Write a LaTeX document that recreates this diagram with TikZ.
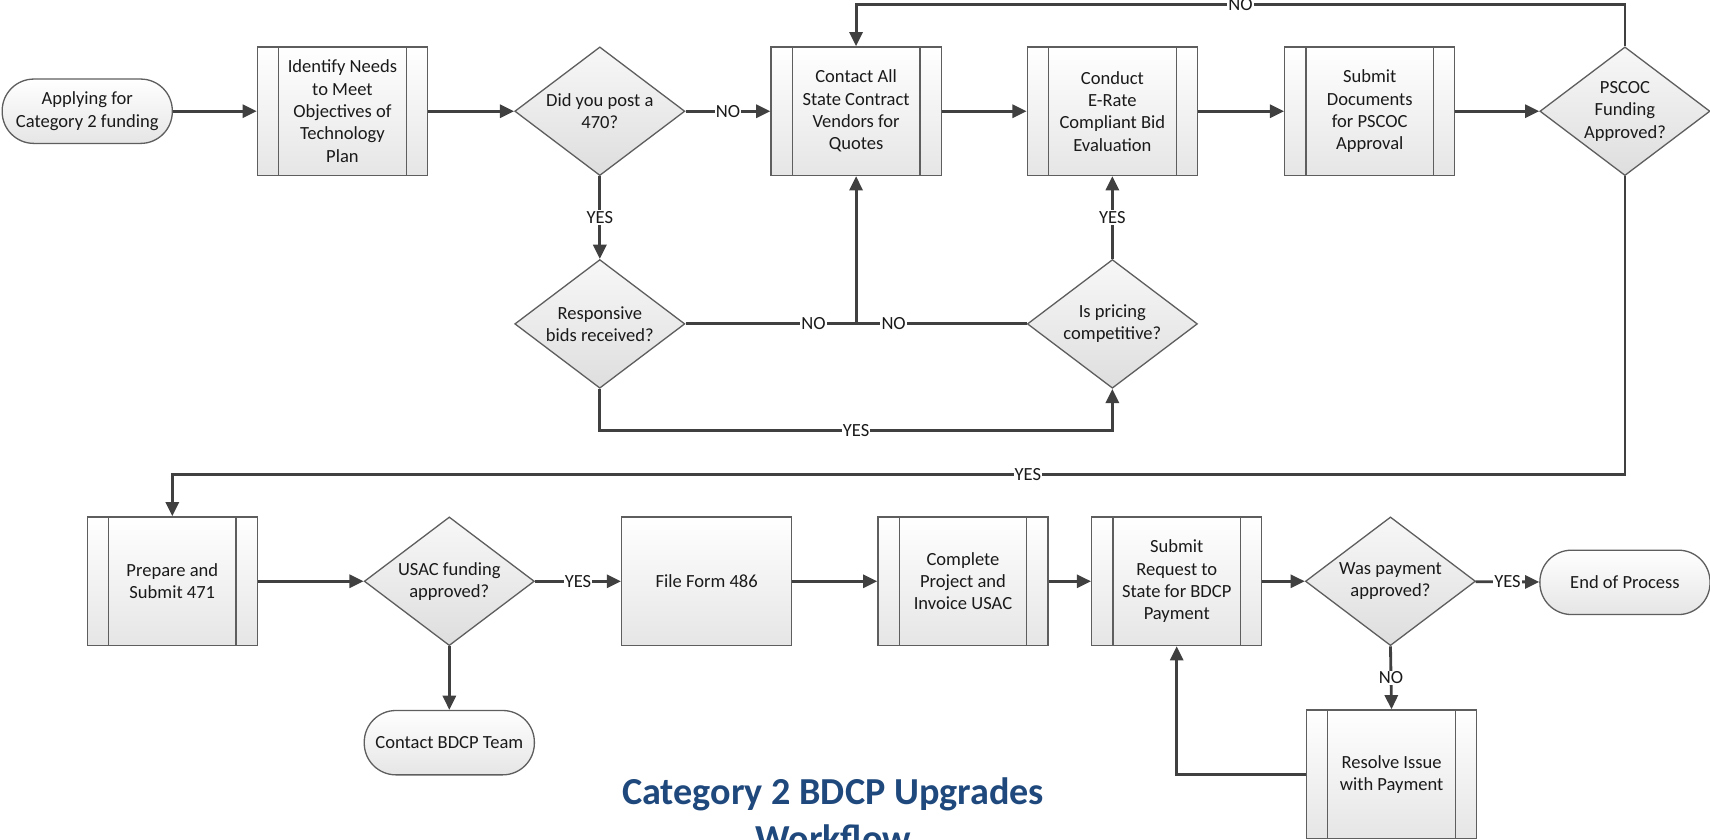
\documentclass[tikz,border=0pt]{standalone}
\usepackage{fontspec}
\setmainfont{Carlito}
\usetikzlibrary{arrows.meta,shapes.geometric,calc}
\definecolor{boxline}{HTML}{5E5E5E}
\definecolor{arrowc}{HTML}{404040}
\definecolor{titleblue}{HTML}{1F497D}
\definecolor{txt}{HTML}{1A1A1A}
\tikzset{
  base/.style={draw=boxline, line width=1.2pt, top color=white, bottom color=black!10,
    font=\fontsize{17}{20.5}\selectfont, text=txt, align=center, inner sep=0pt},
  plainbox/.style={base, rectangle, minimum width=156, minimum height=118},
  subproc/.style={plainbox,
    path picture={
      \draw[boxline, line width=1.2pt]
        ([xshift=19.5pt]path picture bounding box.north west) --
        ([xshift=19.5pt]path picture bounding box.south west);
      \draw[boxline, line width=1.2pt]
        ([xshift=-19.5pt]path picture bounding box.north east) --
        ([xshift=-19.5pt]path picture bounding box.south east);
    }},
  decision/.style={base, diamond, aspect=1.33, minimum width=156, minimum height=118,
    top color=black!3, bottom color=black!13},
  terminal/.style={base, rectangle, rounded corners=29pt, minimum width=156, minimum height=59},
  arr/.style={draw=arrowc, line width=2.6pt, -{Triangle[length=13pt,width=12pt]}},
  lnk/.style={draw=arrowc, line width=2.6pt},
  lbl/.style={fill=white, text=txt, inner sep=1pt, font=\fontsize{17}{20}\selectfont},
}
\begin{document}
\begin{tikzpicture}[x=1pt,y=-1pt]
\useasboundingbox (0,0) rectangle (1568,770);
% Row 1
\node[terminal] (start) at (80,102) {Applying for\\Category 2 funding};
\node[subproc] (ident) at (314,102) {Identify Needs\\to Meet\\Objectives of\\Technology\\Plan};
\node[decision] (post) at (550,102) {Did you post a\\470?};
\node[subproc] (contact) at (785,102) {Contact All\\State Contract\\Vendors for\\Quotes};
\node[subproc] (conduct) at (1020,102) {Conduct\\E-Rate\\Compliant Bid\\Evaluation};
\node[subproc] (submitdoc) at (1256,102) {Submit\\Documents\\for PSCOC\\Approval};
\node[decision] (pscoc) at (1490,102) {PSCOC\\Funding\\Approved?};
% Row 2
\node[decision] (resp) at (550,297) {Responsive\\bids received?};
\node[decision] (price) at (1020,297) {Is pricing\\competitive?};
% Row 3
\node[subproc] (prep) at (158,533) {Prepare and\\Submit 471};
\node[decision] (usac) at (412,533) {USAC funding\\approved?};
\node[plainbox] (form) at (648,533) {File Form 486};
\node[subproc] (complete) at (883,533) {Complete\\Project and\\Invoice USAC};
\node[subproc] (subreq) at (1079,533) {Submit\\Request to\\State for BDCP\\Payment};
\node[decision] (paid) at (1275,533) {Was payment\\approved?};
\node[terminal] (endp) at (1490,534) {End of Process};
\node[terminal] (bdcp) at (412,681) {Contact BDCP Team};
\node[subproc] (resolve) at (1276,710) {Resolve Issue\\with Payment};
% Title
\node[font=\fontsize{35}{43}\selectfont\bfseries, text=titleblue, anchor=base, inner sep=0pt] (title1) at (764,738) {Category 2 BDCP Upgrades};
\node[font=\fontsize{35}{43}\selectfont\bfseries, text=titleblue, anchor=base, inner sep=0pt] (title2) at (764,781) {Workflow};
% helper coordinates
\coordinate (jn) at (785,297);
\coordinate (topc) at (785,4);
\coordinate (y1) at (1490,435);
\coordinate (y2) at (158,435);
\coordinate (b1) at (550,395);
\coordinate (b2) at (1020,395);
% Connectors row 1
\draw[arr] (start) -- (ident);
\draw[arr] (ident) -- (post);
\draw[arr] (post) -- node[lbl]{NO} (contact);
\draw[arr] (contact) -- (conduct);
\draw[arr] (conduct) -- (submitdoc);
\draw[arr] (submitdoc) -- (pscoc);
\draw[arr] (pscoc.north) |- node[lbl, pos=0.75]{NO} (topc) -- (contact.north);
% Middle
\draw[arr] (post.south) -- node[lbl]{YES} (resp.north);
\draw[lnk] (resp.east) -- node[lbl, pos=0.75]{NO} (jn);
\draw[lnk] (price.west) -- node[lbl, pos=0.78]{NO} (jn);
\draw[arr] (jn) -- (contact.south);
\draw[arr] (price.north) -- node[lbl]{YES} (conduct.south);
\draw[arr] (resp.south) -- (b1) -- node[lbl]{YES} (b2) -- (price.south);
% PSCOC yes
\draw[arr] (pscoc.south) -- (y1) -- node[lbl, pos=0.411]{YES} (y2) -- (prep.north);
% Row 3
\draw[arr] (prep) -- (usac);
\draw[arr] (usac) -- node[lbl]{YES} (form);
\draw[arr] (usac.south) -- (bdcp.north);
\draw[arr] (form) -- (complete);
\draw[arr] (complete) -- (subreq);
\draw[arr] (subreq) -- (paid);
\draw[arr] (paid) -- node[lbl]{YES} (endp);
\draw[arr] (paid.south) -- node[lbl]{NO} (resolve.north);
\draw[arr] (resolve.west) -| (subreq.south);
\end{tikzpicture}
\end{document}
